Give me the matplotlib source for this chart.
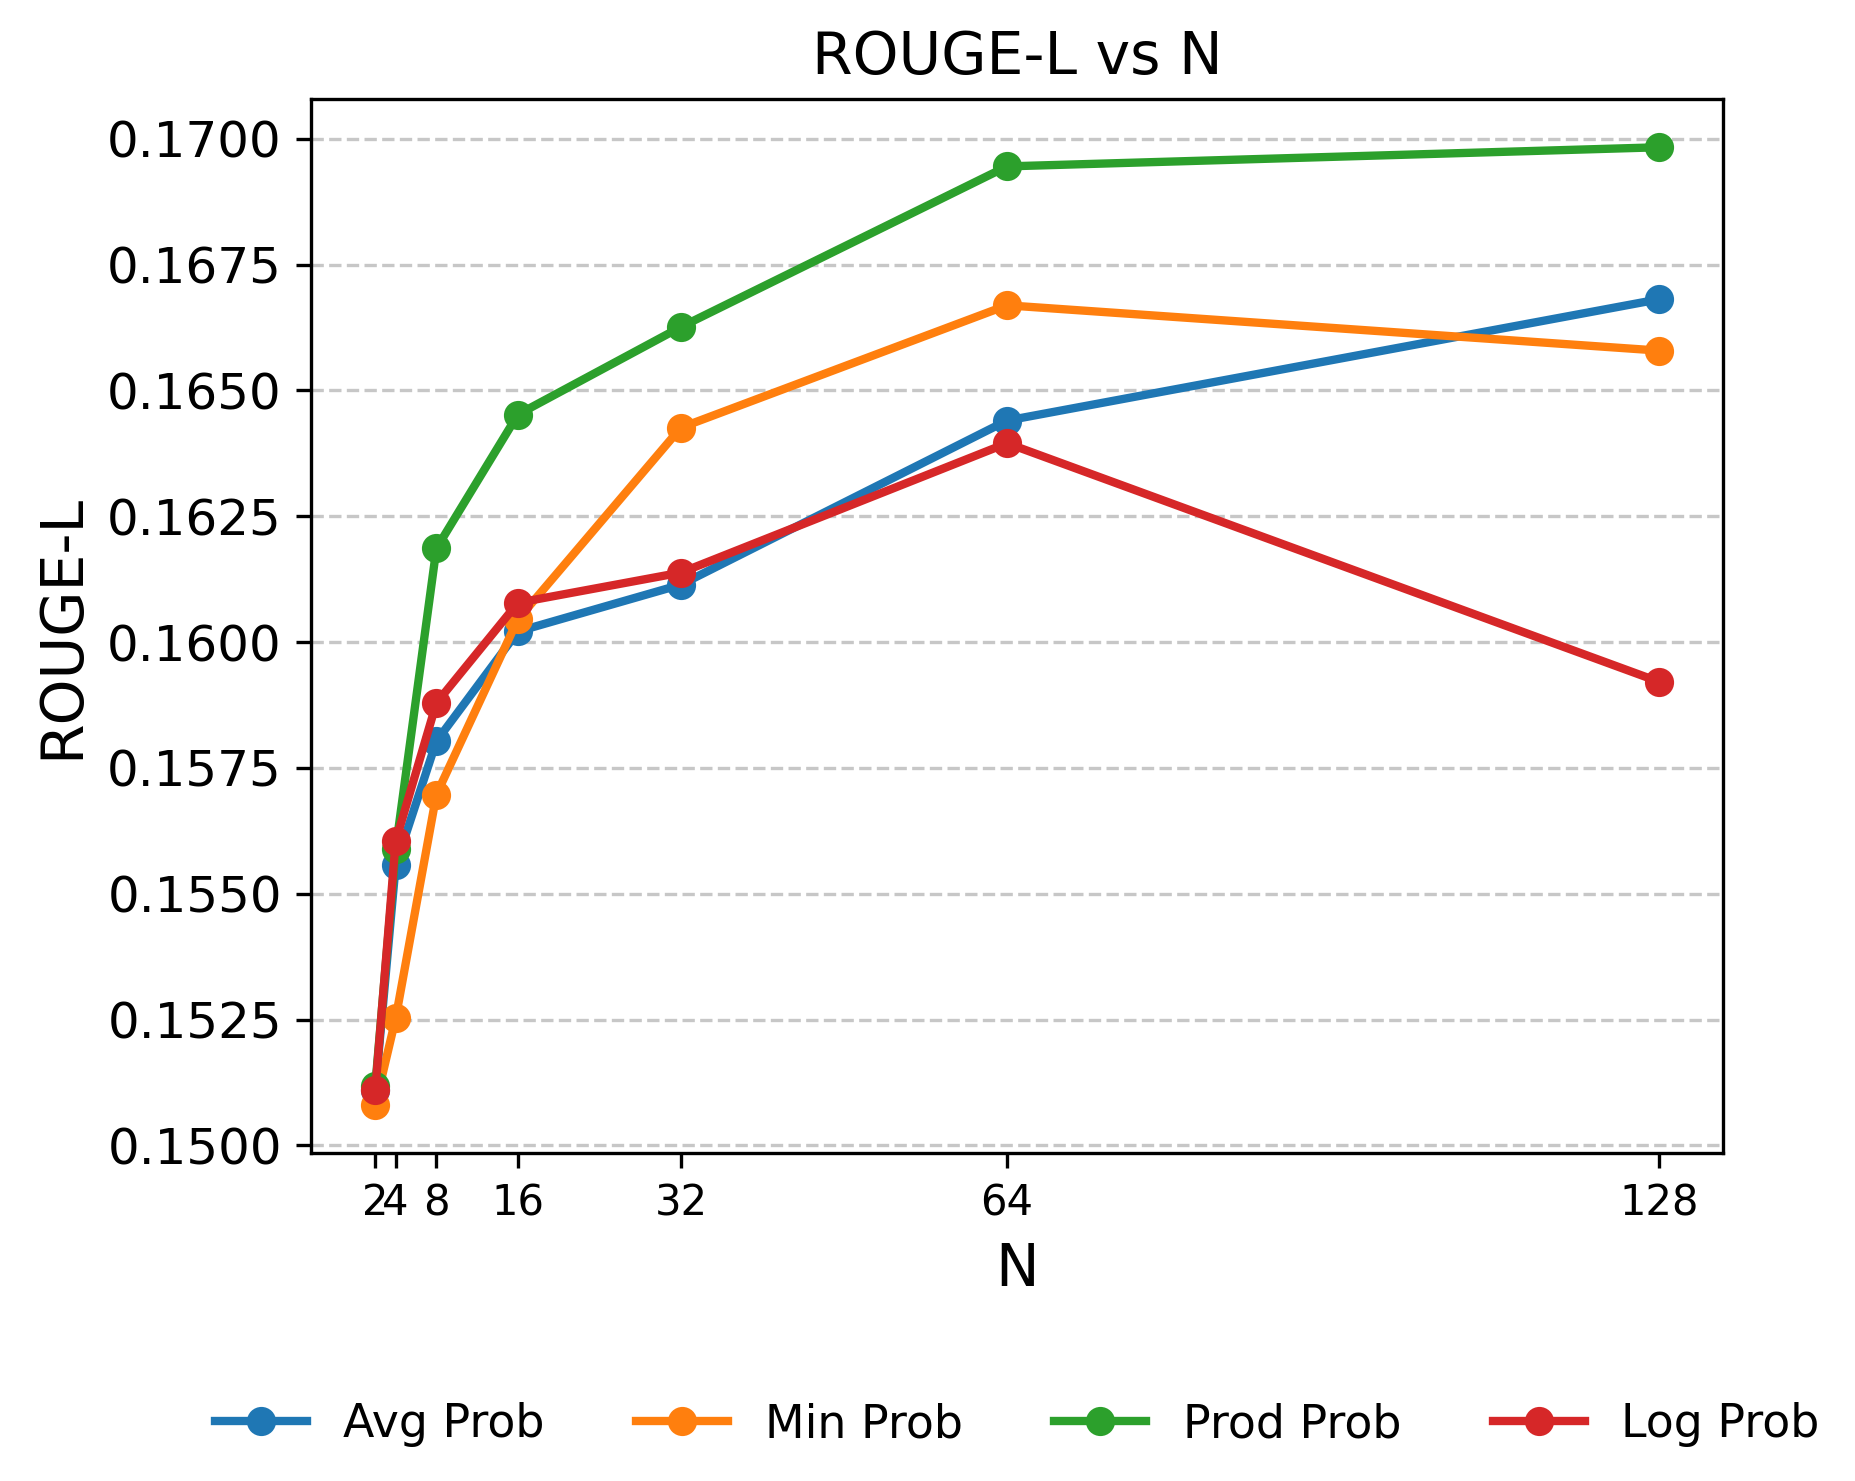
import matplotlib
matplotlib.use("Agg")
import matplotlib.pyplot as plt

N = [2, 4, 8, 16, 32, 64, 128]
avg_prob = [0.15110, 0.15556, 0.15803, 0.16021, 0.16114, 0.16440, 0.16681]
min_prob = [0.15080, 0.15252, 0.15697, 0.16045, 0.16426, 0.16669, 0.16579]
prod_prob = [0.15118, 0.15588, 0.16186, 0.16452, 0.16626, 0.16945, 0.16983]
log_prob = [0.15109, 0.15604, 0.15879, 0.16078, 0.16138, 0.16395, 0.15921]

series = [
    ("Avg Prob", avg_prob, "#1f77b4"),
    ("Min Prob", min_prob, "#ff7f0e"),
    ("Prod Prob", prod_prob, "#2ca02c"),
    ("Log Prob", log_prob, "#d62728"),
]

fig = plt.figure(figsize=(1855 / 300, 1481 / 300), dpi=300)
ax = fig.add_axes([0.1677, 0.2215, 0.929 - 0.1677, 0.9329 - 0.2215])

for label, vals, color in series:
    ax.plot(N, vals, marker="o", linewidth=2, markersize=6, color=color, label=label)

ax.set_xticks(N)
ax.set_xticklabels([str(n) for n in N], fontsize=10)
ax.tick_params(axis="y", labelsize=12)
ax.yaxis.set_major_formatter(matplotlib.ticker.FormatStrFormatter("%.4f"))
ax.grid(axis="y", linestyle="--", alpha=0.7)
ax.set_title("ROUGE-L vs N", fontsize=14)
ax.set_xlabel("N", fontsize=14)
ax.set_ylabel("ROUGE-L", fontsize=14)
ax.legend(loc="center", bbox_to_anchor=(0.5, -0.258), ncol=4, frameon=False, fontsize=11)

fig.savefig("out.png", dpi=300)
